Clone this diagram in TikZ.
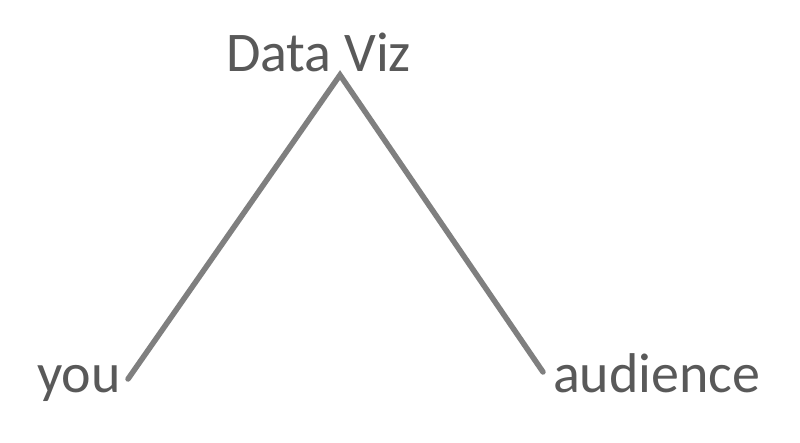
\documentclass[tikz,border=0pt]{standalone}
\usepackage{fontspec}
\setmainfont{Carlito}
\definecolor{txtgray}{HTML}{595959}
\definecolor{lngray}{HTML}{7F7F7F}
\begin{document}
\begin{tikzpicture}[x=1pt,y=1pt,
  lbl/.style={inner sep=0pt,outer sep=0pt,text=txtgray,font=\fontsize{56}{60}\selectfont},
  edge/.style={draw=lngray,line width=5.5pt,line cap=round,line join=miter}]
\useasboundingbox[fill=white] (0,0) rectangle (800,442);
\node[lbl,anchor=base west] (dv) at (226,370) {Data Viz};
\node[lbl,anchor=base west] (you) at (37,50) {you};
\node[lbl,anchor=base west] (aud) at (553,50) {audience};
\coordinate (apex) at (340,367);
\coordinate (l) at (128,63);
\coordinate (r) at (543,70);
\draw[edge] (l) -- (apex) -- (r);
\end{tikzpicture}
\end{document}
